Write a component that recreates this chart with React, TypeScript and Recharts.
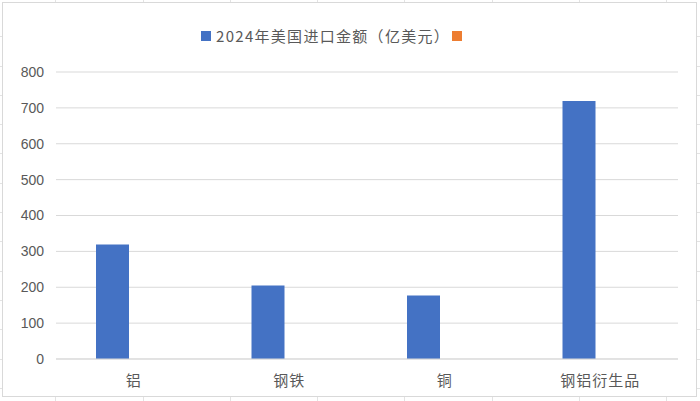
import { BarChart, Bar, XAxis, YAxis, CartesianGrid, Legend } from 'recharts'

const categories = ['铝', '钢铁', '铜', '钢铝衍生品']
const imports2024 = [319, 205, 177, 719]
const otherSeries: (number | null)[] = [null, null, null, null]
const yTicks = [0, 100, 200, 300, 400, 500, 600, 700, 800]

const seriesName = '2024年美国进口金额（亿美元）'

const data = categories.map((name, i) => ({
  name,
  imports: imports2024[i],
  other: otherSeries[i],
}))

const textColor = '#595959'
const gridColor = '#d9d9d9'

function LegendContent() {
  return (
    <div style={{ display: 'flex', alignItems: 'center', height: 18, fontFamily: '"Noto Sans CJK SC", sans-serif', fontSize: '15px', color: textColor, letterSpacing: '1.3px', lineHeight: '18px' }}>
      <span style={{ display: 'inline-block', width: 10, height: 10, backgroundColor: '#4472C4', marginRight: 5 }} />
      <span>{seriesName}</span>
      <span style={{ display: 'inline-block', width: 10, height: 10, backgroundColor: '#ED7D31', marginLeft: 2 }} />
    </div>
  )
}

export default function App() {
  return (
    <div
      style={{
        position: 'absolute',
        left: 0,
        top: 0,
        width: 700,
        height: 401,
        backgroundColor: '#fff',
        backgroundImage:
          'repeating-linear-gradient(to right, transparent 0, transparent 86.3px, #e3e3e3 86.3px, #e3e3e3 87.3px), repeating-linear-gradient(to bottom, transparent 0, transparent 28.3px, #e3e3e3 28.3px, #e3e3e3 29.3px)',
        backgroundPosition: '-31px 0, 0 8px',
        overflow: 'hidden',
      }}
    >
      <div style={{ position: 'absolute', left: 2, top: 2, width: 693, height: 393, border: `1px solid ${gridColor}`, backgroundColor: '#fff' }}>
        <BarChart width={693} height={393} data={data} margin={{ top: 51, right: 18, bottom: 0, left: 0 }} barSize={33} barGap={10}>
          <CartesianGrid vertical={false} stroke={gridColor} />
          <XAxis
            dataKey="name"
            height={37}
            axisLine={{ stroke: gridColor }}
            tickLine={false}
            tickMargin={10}
            tick={{ fill: textColor, fontSize: 15, fontFamily: '"Noto Sans CJK SC", sans-serif', letterSpacing: 1 }}
          />
          <YAxis
            width={53}
            domain={[0, 800]}
            ticks={yTicks}
            axisLine={false}
            tickLine={false}
            tickMargin={6}
            tick={{ fill: textColor, fontSize: 14, fontFamily: '"Liberation Sans", Arial, sans-serif' }}
          />
          <Legend verticalAlign="top" content={<LegendContent />} wrapperStyle={{ top: 24, left: 198, width: 300 }} />
          <Bar dataKey="imports" name={seriesName} fill="#4472C4" isAnimationActive={false} />
          <Bar dataKey="other" name=" " fill="#ED7D31" isAnimationActive={false} />
        </BarChart>
      </div>
    </div>
  )
}
